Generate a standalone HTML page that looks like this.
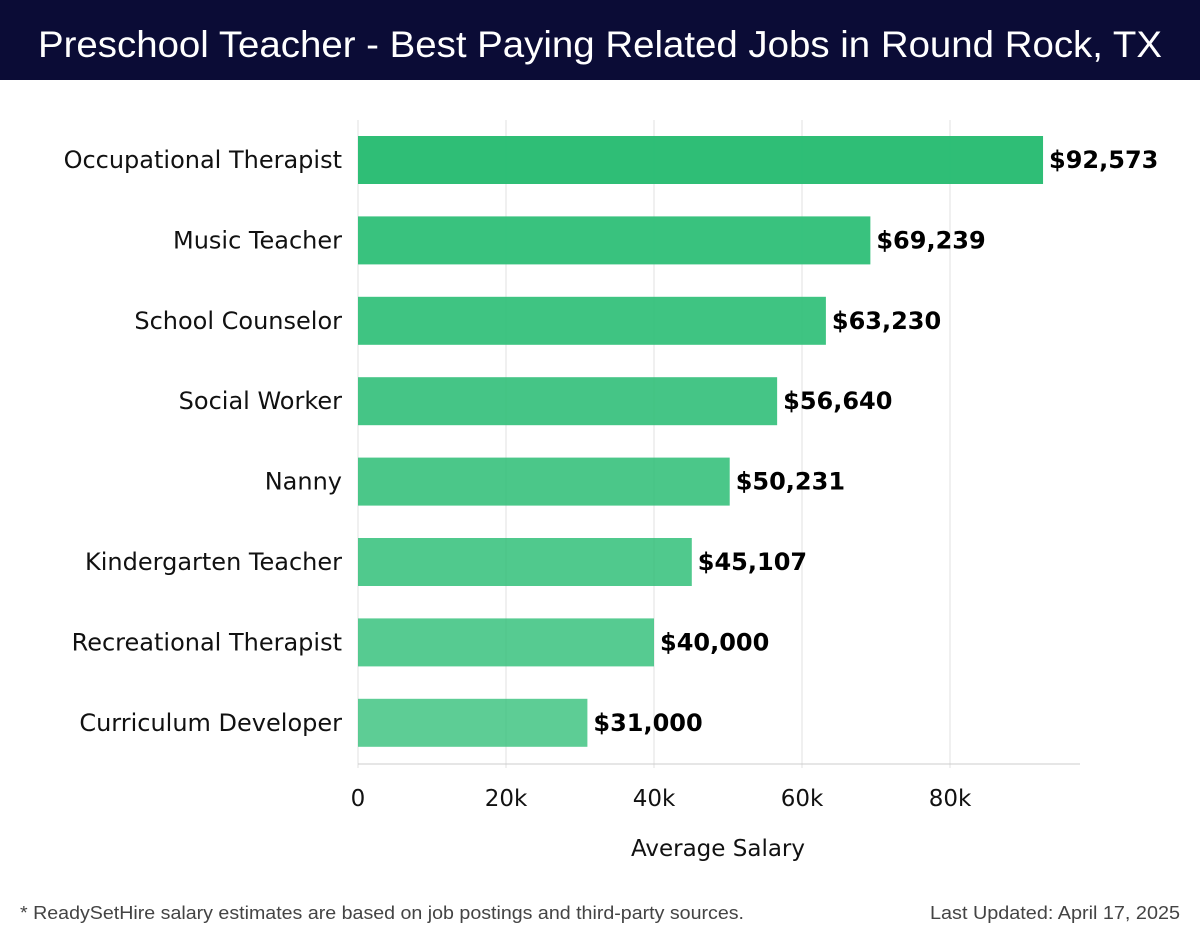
<!DOCTYPE html>
<html><head><meta charset="utf-8"><style>
body{margin:0;width:1200px;height:940px;background:#fff;overflow:hidden;font-family:"DejaVu Sans","Liberation Sans",sans-serif;}
</style></head><body>
<svg width="1200" height="940" xmlns="http://www.w3.org/2000/svg">
<rect x="0" y="0" width="1200" height="80" fill="#0b0c36"/>
<text x="38" y="57" fill="#fff" font-family="Liberation Sans, sans-serif" font-size="37" textLength="1124" lengthAdjust="spacingAndGlyphs">Preschool Teacher - Best Paying Related Jobs in Round Rock, TX</text>
<g id="grid"></g>
<g id="bars"></g>
<g id="axis"></g>
<text x="718" y="856" text-anchor="middle" font-size="23" fill="#111">Average Salary</text>
<text x="20" y="919" font-family="Liberation Sans, sans-serif" font-size="18" fill="#444" textLength="724" lengthAdjust="spacingAndGlyphs">* ReadySetHire salary estimates are based on job postings and third-party sources.</text>
<text x="930" y="919" font-family="Liberation Sans, sans-serif" font-size="18" fill="#444" textLength="250" lengthAdjust="spacingAndGlyphs">Last Updated: April 17, 2025</text>
</svg>
<script>
const categories=["Occupational Therapist","Music Teacher","School Counselor","Social Worker","Nanny","Kindergarten Teacher","Recreational Therapist","Curriculum Developer"];
const salaries=[92573,69239,63230,56640,50231,45107,40000,31000];
const tickValues=[0,20000,40000,60000,80000];
const tickLabels=["0","20k","40k","60k","80k"];
const NS="http://www.w3.org/2000/svg";
const x0=358,pxPer=7.4/1000,top0=120,step=80.4,barH=48;
const xs=v=>x0+v*pxPer;
const yc=i=>top0+40+i*step;
function mk(tag,attrs,parent){const e=document.createElementNS(NS,tag);for(const k in attrs)e.setAttribute(k,attrs[k]);parent.appendChild(e);return e;}
const grid=document.getElementById('grid'),bars=document.getElementById('bars'),axis=document.getElementById('axis');
tickValues.forEach((v,i)=>{
 const l=mk('line',{x1:xs(v),x2:xs(v),y1:120,y2:768,stroke:'#e2e2e2','stroke-width':1},grid);
 
 
 const t=mk('text',{x:xs(v),y:806,'text-anchor':'middle','font-size':23,fill:'#111'},axis);
 t.textContent=tickLabels[i];
 
 
});
const al=mk('line',{x1:358,x2:1080,y1:764,y2:764,stroke:'#cccccc','stroke-width':1},axis);


categories.forEach((c,i)=>{
 const op=0.97-i*0.028;
 const r=mk('rect',{x:x0,y:yc(i)-barH/2,width:xs(salaries[i])-x0,height:barH,fill:i==0?'#28bc72':'#2dbe76','fill-opacity':op},bars);
 
 
 const lb=mk('text',{x:342,y:yc(i)+8,'text-anchor':'end','font-size':24,fill:'#111'},bars);
 lb.textContent=c;
 
 
 const vl=mk('text',{x:xs(salaries[i])+6,y:yc(i)+8,'font-size':24,'font-weight':'bold',fill:'#000'},bars);
 vl.textContent='$'+salaries[i].toLocaleString('en-US');
 
 
});
</script>
</body></html>
